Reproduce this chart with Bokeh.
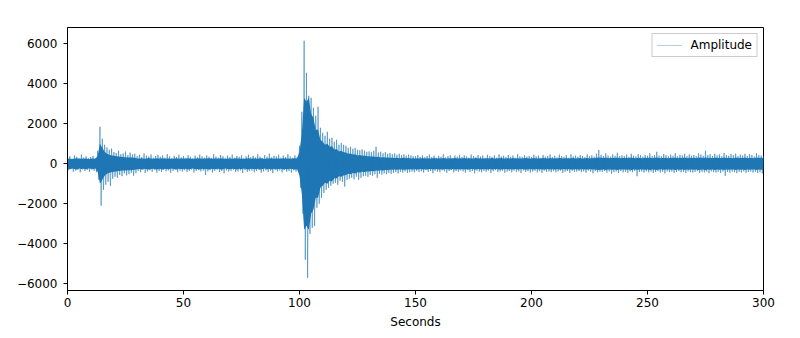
from bokeh.plotting import figure
from bokeh.models import Range1d, FixedTicker, CustomJSTickFormatter, Legend, LegendItem
from bokeh.embed import file_html
from bokeh.resources import INLINE

# Seconds at which envelope peaks were read (1 s apart)
seconds = list(range(0, 301))

# Positive peak amplitude in each second
upper_peaks = [
    300, 380, 260, 420, 350, 290, 460, 310, 370, 280,
    340, 400, 290, 650, 1850, 1250, 950, 820, 700, 760,
    580, 540, 650, 480, 520, 610, 430, 560, 470, 500,
    380, 450, 330, 520, 410, 360, 470, 300, 390, 440,
    350, 420, 310, 480, 370, 290, 400, 340, 450, 320,
    380, 300, 430, 350, 280, 410, 330, 460, 370, 300,
    420, 350, 290, 480, 360, 310, 440, 380, 300, 410,
    340, 460, 300, 390, 350, 420, 280, 370, 450, 330,
    400, 310, 470, 360, 290, 430, 350, 510, 320, 400,
    370, 450, 300, 410, 340, 480, 360, 290, 420, 350,
    900, 2600, 6150, 4550, 3400, 3300, 2800, 2400, 2850, 1800,
    1550, 1400, 1600, 1250, 1300, 1100, 1200, 950, 1050, 950,
    900, 800, 850, 750, 800, 700, 680, 720, 650, 600,
    620, 580, 650, 850, 560, 600, 520, 580, 500, 540,
    480, 520, 450, 500, 430, 470, 400, 460, 420, 380,
    380, 440, 350, 420, 330, 390, 460, 340, 410, 300,
    400, 350, 470, 320, 380, 430, 290, 410, 360, 450,
    340, 420, 370, 300, 460, 380, 330, 440, 360, 410,
    300, 450, 380, 340, 420, 310, 470, 360, 400, 330,
    440, 350, 410, 300, 480, 370, 340, 420, 360, 390,
    330, 450, 370, 410, 300, 440, 360, 390, 470, 340,
    400, 320, 460, 380, 350, 430, 300, 480, 370, 410,
    350, 440, 390, 330, 470, 380, 420, 360, 500, 690,
    450, 380, 520, 410, 360, 470, 400, 550, 380, 430,
    390, 460, 350, 500, 410, 370, 480, 430, 360, 450,
    400, 520, 380, 440, 600, 410, 370, 490, 430, 380,
    460, 400, 530, 370, 450, 420, 500, 380, 470, 410,
    440, 380, 520, 460, 400, 650, 430, 480, 390, 500,
    420, 470, 380, 540, 440, 400, 490, 430, 510, 380,
    460, 420, 500, 390, 480, 440, 370, 520, 430, 410,
    400,
]

# Negative peak amplitude in each second
lower_peaks = [
    -320, -270, -400, -340, -300, -430, -280, -360, -310, -390,
    -300, -360, -420, -800, -2100, -1300, -1050, -900, -1100, -750,
    -650, -700, -560, -620, -480, -580, -520, -450, -600, -470,
    -350, -420, -310, -460, -380, -330, -400, -290, -440, -360,
    -410, -300, -380, -330, -450, -350, -280, -420, -340, -390,
    -320, -400, -350, -290, -430, -360, -310, -380, -340, -560,
    -380, -320, -440, -350, -300, -410, -360, -480, -330, -390,
    -350, -300, -420, -380, -330, -460, -310, -400, -360, -340,
    -420, -360, -300, -450, -380, -330, -410, -350, -470, -320,
    -380, -340, -430, -310, -400, -360, -450, -330, -390, -350,
    -1200, -2500, -4800, -5700, -3500, -3200, -3100, -2200, -2000, -1700,
    -1460, -1300, -1200, -1100, -1000, -950, -1050, -850, -900, -1140,
    -800, -750, -700, -780, -650, -800, -700, -620, -600, -650,
    -560, -600, -520, -700, -500, -540, -480, -520, -450, -500,
    -460, -420, -480, -400, -440, -380, -450, -420, -390, -430,
    -350, -410, -380, -440, -320, -400, -360, -470, -340, -390,
    -420, -330, -380, -450, -360, -310, -430, -370, -400, -340,
    -380, -440, -320, -410, -360, -480, -340, -390, -430, -350,
    -400, -340, -460, -370, -320, -420, -380, -350, -450, -390,
    -360, -430, -340, -400, -380, -460, -330, -410, -370, -440,
    -390, -350, -430, -370, -460, -340, -410, -380, -420, -360,
    -430, -380, -340, -460, -400, -370, -450, -350, -410, -390,
    -360, -420, -380, -450, -340, -400, -470, -370, -430, -390,
    -410, -360, -440, -380, -500, -420, -390, -460, -370, -430,
    -400, -450, -380, -420, -360, -620, -410, -390, -440, -380,
    -430, -390, -460, -410, -370, -440, -400, -480, -380, -420,
    -390, -450, -410, -370, -430, -400, -460, -380, -420, -440,
    -410, -370, -450, -400, -430, -390, -470, -380, -420, -440,
    -400, -460, -380, -600, -410, -450, -390, -420, -470, -400,
    -430, -380, -450, -410, -390, -440, -400, -460, -420, -480,
    -410,
]

# Half-width of the dense (fully saturated) core of the trace in each second
core_amplitude = [
    250, 270, 230, 260, 280, 240, 260, 250, 270, 240,
    250, 260, 240, 400, 1000, 800, 600, 500, 450, 420,
    400, 380, 360, 350, 340, 330, 320, 320, 310, 300,
    270, 260, 280, 250, 270, 290, 260, 250, 280, 270,
    260, 280, 250, 270, 260, 240, 270, 280, 250, 260,
    270, 250, 280, 260, 240, 270, 260, 280, 250, 270,
    260, 280, 250, 270, 260, 250, 280, 270, 240, 260,
    270, 250, 260, 280, 250, 270, 240, 260, 280, 250,
    260, 270, 250, 280, 260, 240, 270, 260, 280, 250,
    270, 260, 250, 280, 260, 270, 250, 260, 280, 270,
    600, 1500, 3300, 3100, 3300, 2500, 2300, 1700, 1700, 1200,
    1100, 950, 1000, 850, 880, 720, 740, 620, 650, 580,
    560, 500, 520, 460, 480, 420, 440, 400, 410, 380,
    380, 360, 370, 340, 350, 320, 330, 310, 320, 300,
    300, 290, 300, 280, 290, 300, 280, 290, 270, 280,
    270, 280, 260, 290, 270, 280, 260, 270, 290, 260,
    280, 270, 290, 260, 270, 280, 260, 290, 270, 280,
    260, 290, 270, 280, 260, 270, 290, 260, 280, 270,
    270, 280, 260, 290, 270, 260, 280, 290, 270, 260,
    280, 270, 290, 260, 280, 270, 260, 290, 280, 270,
    270, 290, 260, 280, 270, 290, 280, 260, 290, 270,
    280, 270, 290, 280, 260, 290, 270, 280, 290, 270,
    280, 290, 270, 280, 290, 270, 290, 280, 300, 310,
    300, 290, 310, 280, 290, 300, 290, 310, 280, 290,
    290, 300, 280, 310, 290, 280, 300, 290, 280, 300,
    290, 310, 280, 300, 310, 290, 280, 300, 290, 280,
    300, 290, 310, 280, 300, 290, 310, 280, 300, 290,
    300, 280, 310, 300, 290, 320, 290, 300, 280, 310,
    290, 300, 280, 310, 290, 300, 290, 280, 310, 290,
    300, 290, 310, 280, 300, 290, 280, 310, 290, 300,
    290,
]

x_ticks = [0, 50, 100, 150, 200, 250, 300]
y_ticks = [-6000, -4000, -2000, 0, 2000, 4000, 6000]

# Trace: positive peak at each second, negative peak half a second later
trace_x, trace_y = [], []
for t, up, lo in zip(seconds, upper_peaks, lower_peaks):
    trace_x += [t, t + 0.5]
    trace_y += [up, lo]
core_top = list(core_amplitude)
core_bottom = [-c for c in core_amplitude]

BLUE = "#1f77b4"
FONT = "DejaVu Sans"

p = figure(width=792, height=331, output_backend="svg", toolbar_location=None,
           x_range=Range1d(0, 300), y_range=Range1d(-6335, 6813),
           min_border_left=67, min_border_right=29, min_border_top=27,
           min_border_bottom=40)
p.background_fill_color = "white"
p.border_fill_color = "white"
p.xgrid.visible = False
p.ygrid.visible = False
p.outline_line_color = "black"
p.outline_line_width = 1
p.outline_line_alpha = 1

p.varea(x=seconds, y1=core_bottom, y2=core_top, fill_color=BLUE, fill_alpha=1)
main = p.line(trace_x, trace_y, line_color=BLUE, line_width=0.9, line_alpha=0.6)
# Style sample for the legend only (a single point draws no visible line)
legend_r = p.line(x=[0], y=[0], line_color=BLUE, line_width=1.2, line_alpha=0.35)

for ax in (p.xaxis[0], p.yaxis[0]):
    ax.axis_line_color = "black"
    ax.major_tick_line_color = "black"
    ax.major_tick_in = 0
    ax.major_tick_out = 4
    ax.minor_tick_in = 0
    ax.minor_tick_out = 0
    ax.major_label_text_font = FONT
    ax.major_label_text_font_size = "12px"
    ax.major_label_text_color = "black"
    ax.major_label_standoff = 3
p.yaxis[0].major_label_standoff = 6

p.xaxis[0].ticker = FixedTicker(ticks=x_ticks)
p.yaxis[0].ticker = FixedTicker(ticks=y_ticks)
p.yaxis[0].formatter = CustomJSTickFormatter(
    code="return tick < 0 ? '\u2212' + Math.abs(tick) : String(tick);")
p.xaxis[0].axis_label = "Seconds"
p.xaxis[0].axis_label_text_font = FONT
p.xaxis[0].axis_label_text_font_size = "12px"
p.xaxis[0].axis_label_text_font_style = "normal"
p.xaxis[0].axis_label_text_color = "black"
p.xaxis[0].axis_label_standoff = 5

legend = Legend(items=[LegendItem(label="Amplitude", renderers=[legend_r])],
                location="top_right")
legend.label_text_font = FONT
legend.label_text_font_size = "12px"
legend.label_text_color = "black"
legend.glyph_width = 25
legend.glyph_height = 14
legend.label_height = 14
legend.label_standoff = 9
legend.padding = 4
legend.margin = 6
legend.spacing = 0
legend.border_line_color = "#cccccc"
legend.border_line_alpha = 1
legend.background_fill_alpha = 0.8
p.add_layout(legend)

open("out.html", "w").write(file_html(p, INLINE))
